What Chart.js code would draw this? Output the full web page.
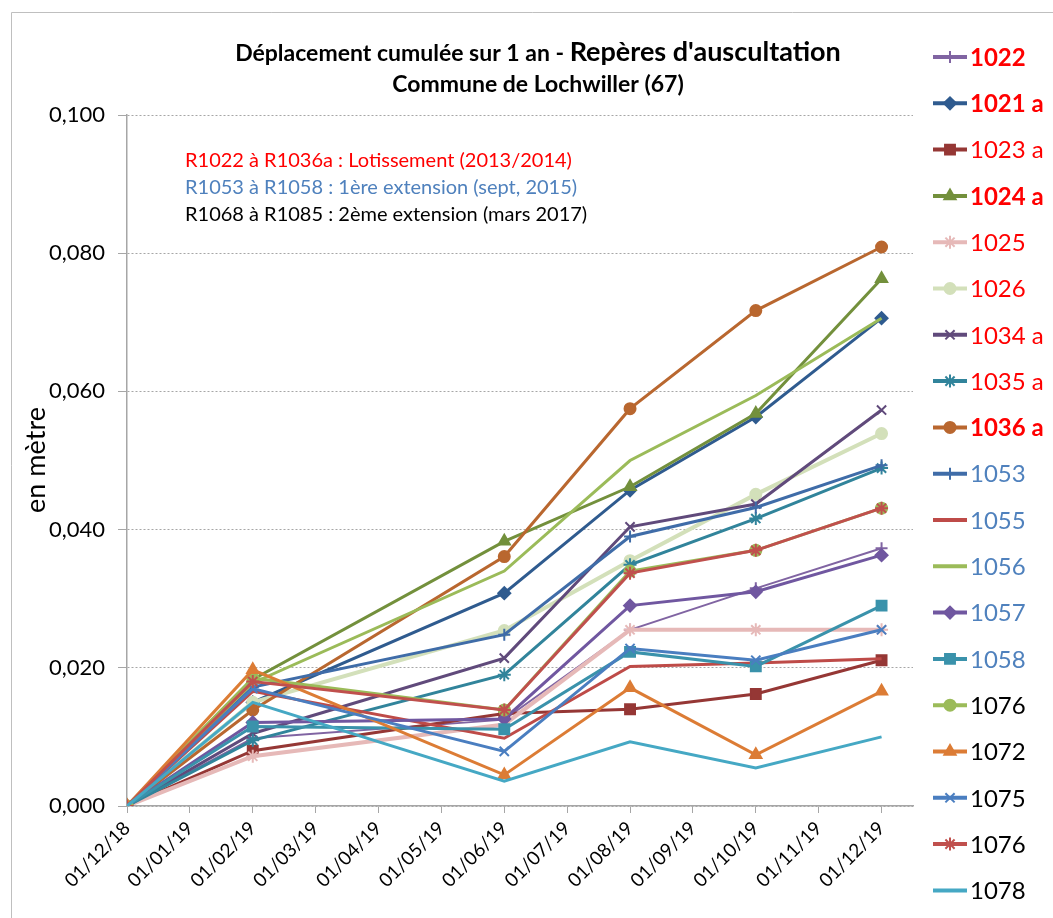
<!DOCTYPE html>
<html>
<head>
<meta charset="utf-8">
<script src="https://cdn.jsdelivr.net/npm/chart.js@4.4.1/dist/chart.umd.min.js"></script>
<style>
  html, body { margin: 0; padding: 0; background: #fff; }
  #wrap { width: 1053px; height: 918px; position: relative; }
</style>
</head>
<body>
<div id="wrap"><canvas id="graph"></canvas></div>
<script>
// ── données ───────────────────────────────────────
const tickLabels = ['01/12/18', '01/01/19', '01/02/19', '01/03/19', '01/04/19', '01/05/19', '01/06/19',
  '01/07/19', '01/08/19', '01/09/19', '01/10/19', '01/11/19', '01/12/19'];
const surveyMonths = [0, 2, 6, 8, 10, 12]; // index dans tickLabels

const seriesNames = ['1022', '1021 a', '1023 a', '1024 a', '1025', '1026', '1034 a', '1035 a', '1036 a',
  '1053', '1055', '1056', '1057', '1058', '1076', '1072', '1075', '1076', '1078'];

const r1022  = [0, 0.0098, 0.0125, 0.0255, 0.0315, 0.0373];
const r1021a = [0, 0.0150, 0.0308, 0.0457, 0.0563, 0.0706];
const r1023a = [0, 0.0080, 0.0134, 0.0140, 0.0162, 0.0211];
const r1024a = [0, 0.0183, 0.0383, 0.0462, 0.0568, 0.0763];
const r1025  = [0, 0.0072, 0.0118, 0.0255, 0.0255, 0.0255];
const r1026  = [0, 0.0150, 0.0254, 0.0355, 0.0451, 0.0539];
const r1034a = [0, 0.0105, 0.0214, 0.0404, 0.0437, 0.0573];
const r1035a = [0, 0.0095, 0.0190, 0.0349, 0.0416, 0.0489];
const r1036a = [0, 0.0139, 0.0361, 0.0575, 0.0717, 0.0809];
const r1053  = [0, 0.0172, 0.0248, 0.0390, 0.0432, 0.0493];
const r1055  = [0, 0.0166, 0.0098, 0.0202, 0.0207, 0.0213];
const r1056  = [0, 0.0178, 0.0340, 0.0500, 0.0594, 0.0706];
const r1057  = [0, 0.0121, 0.0126, 0.0290, 0.0310, 0.0363];
const r1058  = [0, 0.0115, 0.0111, 0.0223, 0.0202, 0.0290];
const r1076g = [0, 0.0185, 0.0139, 0.0340, 0.0370, 0.0431];
const r1072  = [0, 0.0197, 0.0045, 0.0171, 0.0074, 0.0166];
const r1075  = [0, 0.0170, 0.0079, 0.0228, 0.0211, 0.0255];
const r1076r = [0, 0.0180, 0.0139, 0.0337, 0.0370, 0.0431];
const r1078  = [0, 0.0150, 0.0036, 0.0093, 0.0055, 0.0100];

const seriesValues = [r1022, r1021a, r1023a, r1024a, r1025, r1026, r1034a, r1035a, r1036a,
  r1053, r1055, r1056, r1057, r1058, r1076g, r1072, r1075, r1076r, r1078];

const yTicks = [0, 0.02, 0.04, 0.06, 0.08, 0.1];

// ── styles (couleur, marqueur, épaisseur) ─────────
const styles = [
  { color: '#8064A2', marker: 'cross',    width: 2 },
  { color: '#2F5B8F', marker: 'rectRot',  width: 3 },
  { color: '#953735', marker: 'rect',     width: 3 },
  { color: '#73903C', marker: 'triangle', width: 3 },
  { color: '#E6B9B8', marker: 'star',     width: 4 },
  { color: '#D3E0BA', marker: 'circle',   width: 4 },
  { color: '#604A7B', marker: 'crossRot', width: 3 },
  { color: '#31849B', marker: 'star',     width: 3 },
  { color: '#B9672F', marker: 'circle',   width: 3 },
  { color: '#3F6CA8', marker: 'cross',    width: 3 },
  { color: '#BE4B48', marker: null,       width: 3 },
  { color: '#9BBB59', marker: null,       width: 3 },
  { color: '#7057A0', marker: 'rectRot',  width: 3 },
  { color: '#3A92AB', marker: 'rect',     width: 3 },
  { color: '#9BBB59', marker: 'circle',   width: 3 },
  { color: '#DC7C35', marker: 'triangle', width: 3 },
  { color: '#4A7EC0', marker: 'crossRot', width: 3 },
  { color: '#C0504D', marker: 'star',     width: 3 },
  { color: '#45A8C4', marker: null,       width: 3 }
];
const markerRadius = { cross: 6, rectRot: 6, rect: 7, triangle: 6.5, star: 6.5, circle: 5.5, crossRot: 6.5 };

// couleurs / gras de la légende
const legendColors = ['#FF0000', '#FF0000', '#FF0000', '#FF0000', '#FF0000', '#FF0000', '#FF0000', '#FF0000', '#FF0000',
  '#4F81BD', '#4F81BD', '#4F81BD', '#4F81BD', '#4F81BD', '#000', '#000', '#000', '#000', '#000'];
const legendBold = [true, true, false, true, false, false, false, false, true,
  false, false, false, false, false, false, false, false, false, false];

const FONT = 'Lato, "Open Sans", sans-serif';

// ── datasets ──────────────────────────────────────
const datasets = seriesNames.map((name, i) => {
  const st = styles[i];
  return {
    label: name,
    data: seriesValues[i].map((v, k) => ({ x: surveyMonths[k], y: v })),
    borderColor: st.color,
    backgroundColor: st.color,
    borderWidth: st.width,
    pointStyle: st.marker || 'circle',
    pointRadius: st.marker ? markerRadius[st.marker] : 0,
    pointBorderWidth: 2,
    pointBackgroundColor: st.color,
    pointBorderColor: st.color,
    tension: 0,
    order: -i
  };
});

// ── titre, annotations, légende, cadre ────────────
const decorPlugin = {
  id: 'decor',
  afterDraw(chart) {
    const ctx = chart.ctx;
    ctx.save();

    // cadre
    ctx.strokeStyle = '#BFBFBF';
    ctx.lineWidth = 1;
    ctx.beginPath();
    ctx.moveTo(11.5, 918);
    ctx.lineTo(11.5, 12.5);
    ctx.lineTo(1053, 12.5);
    ctx.stroke();

    // titre
    const partA = 'Déplacement cumulée sur 1 an - ';
    const partB = "Repères d'auscultation";
    ctx.fillStyle = '#000';
    ctx.textBaseline = 'alphabetic';
    ctx.textAlign = 'left';
    ctx.font = 'bold 23px ' + FONT;
    const wA = ctx.measureText(partA).width;
    ctx.font = 'bold 27px ' + FONT;
    const wB = ctx.measureText(partB).width;
    const x0 = 538 - (wA + wB) / 2;
    ctx.font = 'bold 23px ' + FONT;
    ctx.fillText(partA, x0, 61);
    ctx.font = 'bold 27px ' + FONT;
    ctx.fillText(partB, x0 + wA, 61);
    ctx.font = 'bold 23px ' + FONT;
    ctx.textAlign = 'center';
    ctx.fillText('Commune de Lochwiller (67)', 538, 92);

    // annotations
    ctx.textAlign = 'left';
    ctx.font = '20px ' + FONT;
    ctx.fillStyle = '#FF0000';
    ctx.fillText('R1022 à R1036a : Lotissement (2013/2014)', 185, 167);
    ctx.fillStyle = '#4F81BD';
    ctx.fillText('R1053 à R1058 : 1ère extension (sept, 2015)', 185, 194);
    ctx.fillStyle = '#000';
    ctx.fillText('R1068 à R1085 : 2ème extension (mars 2017)', 185, 221);

    // titre axe Y
    ctx.save();
    ctx.translate(36, 460);
    ctx.rotate(-Math.PI / 2);
    ctx.textAlign = 'center';
    ctx.textBaseline = 'middle';
    ctx.font = '27px ' + FONT;
    ctx.fillStyle = '#000';
    ctx.fillText('en mètre', 0, 0);
    ctx.restore();

    // légende
    seriesNames.forEach((name, i) => {
      const st = styles[i];
      const y = 57 + i * 46.3;
      ctx.strokeStyle = st.color;
      ctx.lineWidth = 4;
      ctx.beginPath();
      ctx.moveTo(933, y);
      ctx.lineTo(967, y);
      ctx.stroke();
      if (st.marker && Chart.helpers && Chart.helpers.drawPoint) {
        ctx.fillStyle = st.color;
        ctx.strokeStyle = st.color;
        ctx.lineWidth = 2;
        Chart.helpers.drawPoint(ctx, {
          pointStyle: st.marker, radius: markerRadius[st.marker], borderWidth: 2, rotation: 0
        }, 950, y);
      }
      ctx.fillStyle = legendColors[i];
      ctx.font = (legendBold[i] ? 'bold ' : '') + '24px ' + FONT;
      ctx.textAlign = 'left';
      ctx.textBaseline = 'middle';
      ctx.fillText(name, 970, y + 1);
    });

    ctx.restore();
  }
};

new Chart(document.getElementById('graph'), {
  type: 'line',
  data: { datasets },
  plugins: [decorPlugin],
  options: {
    responsive: true,
    maintainAspectRatio: false,
    animation: false,
    layout: { padding: { top: 115, right: 140, bottom: 0, left: 0 } },
    plugins: { legend: { display: false }, tooltip: { enabled: false } },
    scales: {
      x: {
        type: 'linear',
        min: 0,
        max: 12.5,
        afterFit(scale) { scale.height = 112; },
        afterBuildTicks(scale) { scale.ticks = tickLabels.map((t, i) => ({ value: i })); },
        ticks: {
          autoSkip: false,
          minRotation: 45,
          maxRotation: 45,
          padding: 4,
          color: '#000',
          font: { family: FONT, size: 19 },
          callback: (v) => tickLabels[v] || ''
        },
        grid: { drawOnChartArea: false, drawTicks: true, tickLength: 7, color: '#A6A6A6', tickBorderDash: [] },
        border: { color: '#A6A6A6', width: 1.5 }
      },
      y: {
        min: 0,
        max: 0.1,
        afterFit(scale) { scale.width = 127; },
        afterBuildTicks(scale) { scale.ticks = yTicks.map(v => ({ value: v })); },
        ticks: {
          padding: 13,
          color: '#000',
          font: { family: FONT, size: 22 },
          callback: (v) => v.toFixed(3).replace('.', ',')
        },
        grid: { color: '#A6A6A6', lineWidth: 1, tickLength: 9, tickColor: '#A6A6A6', tickBorderDash: [] },
        border: { color: '#A6A6A6', width: 1.5, dash: [2, 2] }
      }
    }
  }
});
</script>
</body>
</html>
